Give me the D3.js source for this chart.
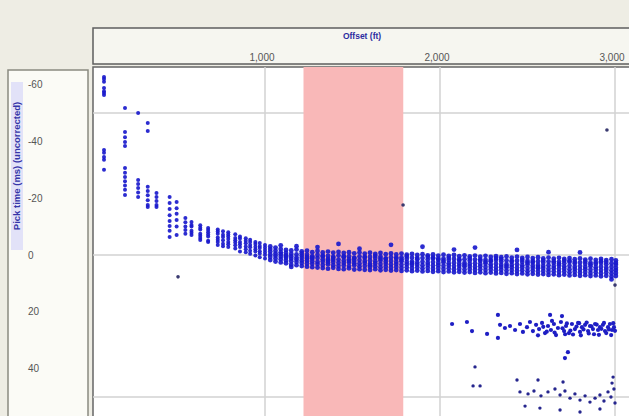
<!DOCTYPE html>
<html>
<head>
<meta charset="utf-8">
<script src="https://cdn.jsdelivr.net/npm/d3@7"></script>
<style>
  body { margin: 0; background: #eeede4; }
  svg { display: block; font-family: "Liberation Sans", Arial, sans-serif; }
</style>
</head>
<body>
<div id="chart"></div>
<script>
// picks per receiver station: offset (ft) and first-break times (ms)
var stationFt = [80, 200, 275, 330, 380, 455, 495, 545, 580, 630, 675, 730, 760, 790, 830, 857, 890, 915, 945, 970, 1000, 1030, 1060,
  1090, 1120, 1150, 1180, 1210, 1240, 1270, 1300, 1330, 1360, 1390, 1420, 1450, 1480, 1510, 1540, 1570, 1600, 1630, 1660, 1690,
  1720, 1750, 1780, 1810, 1840, 1870, 1900, 1930, 1960, 1990, 2020, 2050, 2080, 2110, 2140, 2170, 2200, 2230, 2260, 2290, 2320,
  2350, 2380, 2410, 2440, 2470, 2500, 2530, 2560, 2590, 2620, 2650, 2680, 2710, 2740, 2770, 2800, 2830, 2860, 2890, 2920, 2950,
  2980, 3005];

var stationMs = [
  [-62.7, -62.0, -61.0, -58.8, -57.7, -57.0, -56.3, -37.0, -36.0, -34.5, -33.5, -30.0],
  [-51.8, -43.3, -41.5, -39.8, -38.4, -30.6, -29.0, -27.5, -26.0, -24.5, -23.0, -21.1],
  [-50.0, -26.4, -25.0, -23.6, -22.0, -20.4],
  [-46.5, -43.7, -24.0, -22.5, -21.0, -19.3, -17.6, -16.9],
  [-21.8, -20.4, -19.0, -17.6, -16.9],
  [-20.4, -18.3, -16.2, -14.0, -12.0, -10.2, -8.5, -6.3],
  [-18.7, -16.5, -14.5, -12.3, -10.0, -7.0],
  [-13.0, -11.5, -10.0, -8.8, -7.5],
  [-11.6, -10.6, -10.0, -8.5, -7.8, -7.0],
  [-10.5, -9.6, -9.0, -7.5, -6.8, -6.0, -5.3],
  [-9.5, -8.8, -8.0, -7.2, -6.5, -5.0, -4.6],
  [-9.0, -8.3, -7.5, -6.2, -5.4, -4.6, -3.5],
  [-8.4, -7.1, -6.3, -5.2, -4.0, -3.1],
  [-8.0, -7.2, -6.5, -5.6, -4.6, -3.8, -2.8],
  [-7.3, -6.0, -5.2, -4.4, -3.4, -2.3],
  [-6.5, -5.8, -4.6, -3.8, -2.8, -1.2],
  [-5.9, -5.0, -4.1, -3.0, -2.0, -1.0],
  [-5.4, -4.6, -3.5, -2.7, -1.5, -0.4],
  [-4.6, -3.9, -2.9, -2.0, -1.2, 0.2],
  [-4.2, -3.2, -2.5, -1.3, -0.5, 0.8],
  [-3.5, -2.6, -1.8, -0.9, 0.0, 1.2],
  [-3.0, -2.1, -1.2, -0.2, 0.7, 1.8],
  [-2.6, -1.5, -0.5, 0.3, 1.2, 2.3],
  [-2.1, -1.0, -0.3, 0.6, 1.5, 2.6, -3.4],
  [-1.8, -0.7, 0.1, 1.0, 1.9, 2.9, 0.5],
  [-1.6, -0.4, 0.5, 1.3, 2.2, 3.4, 4.2],
  [-1.9, -0.2, 0.9, 1.6, 2.5, 3.6, -3.1],
  [-1.3, 0.2, 1.0, 1.9, 2.8, 3.9, -0.6],
  [-1.5, -0.1, 1.2, 2.0, 3.0, 4.1, 0.7],
  [-1.0, 0.4, 1.3, 2.2, 3.1, 4.3, 0.9],
  [-1.4, 0.0, 1.1, 2.4, 3.2, 4.4, -2.8],
  [-0.9, 0.5, 1.5, 2.3, 3.5, 4.6, 0.2],
  [-1.2, 0.3, 1.4, 2.6, 3.3, 4.8, 1.9],
  [-0.8, 0.6, 1.7, 2.5, 3.6, 4.5, 1.0],
  [-1.1, 0.2, 1.6, 2.7, 3.8, 4.9, -3.9],
  [-0.7, 0.8, 1.9, 2.8, 3.7, 5.0, 0.4],
  [-1.0, 0.4, 1.5, 2.6, 3.9, 4.7, 2.1],
  [-0.6, 0.9, 2.0, 2.9, 3.6, 5.1, 1.2],
  [-0.9, 0.5, 1.8, 3.0, 4.0, 5.0, -2.2],
  [-0.5, 1.0, 2.1, 2.8, 3.9, 5.2, 0.6],
  [-0.8, 0.7, 1.9, 3.1, 4.2, 5.3, 3.6],
  [-0.4, 1.1, 2.2, 3.0, 4.0, 5.0, 0.3],
  [-0.7, 0.6, 2.0, 3.2, 4.3, 5.4, 1.3],
  [-0.3, 1.2, 2.3, 3.1, 4.1, 5.2, 1.4],
  [-0.6, 0.8, 2.1, 3.3, 4.4, 5.5, -3.6],
  [-0.2, 1.3, 2.4, 3.2, 4.2, 5.3, 0.9],
  [-0.5, 0.9, 2.2, 3.4, 4.5, 5.6, 1.6],
  [-0.1, 1.4, 2.5, 3.3, 4.3, 5.4, 0.5],
  [-0.4, 1.0, 2.3, 3.5, 4.6, 5.7, 2.9],
  [0.0, 1.5, 2.6, 3.4, 4.4, 5.5, 1.1],
  [-0.3, 1.1, 2.4, 3.6, 4.7, 5.8, -2.9],
  [0.1, 1.6, 2.7, 3.5, 4.5, 5.6, 0.7],
  [-0.2, 1.2, 2.5, 3.7, 4.8, 5.9, 0.9],
  [0.2, 1.7, 2.8, 3.6, 4.6, 5.7, 1.3],
  [-0.1, 1.3, 2.6, 3.8, 4.9, 6.0, 2.0],
  [0.3, 1.8, 2.9, 3.7, 4.7, 5.8, 1.0],
  [0.0, 1.4, 2.7, 3.9, 5.0, 6.1, -1.9],
  [0.4, 1.9, 3.0, 3.8, 4.8, 5.9, 1.5],
  [0.1, 1.5, 2.8, 4.0, 5.1, 6.2, 3.4],
  [0.5, 2.0, 3.1, 3.9, 4.9, 6.0, 1.2],
  [0.2, 1.6, 2.9, 4.1, 5.2, 6.3, -2.6],
  [0.6, 2.1, 3.2, 4.0, 5.0, 6.1, 1.6],
  [0.3, 1.7, 3.0, 4.2, 5.3, 6.4, 2.4],
  [0.7, 2.2, 3.3, 4.1, 5.1, 6.2, 1.8],
  [0.4, 1.8, 3.1, 4.3, 5.4, 6.5, 1.1],
  [0.8, 2.3, 3.4, 4.2, 5.2, 6.3, 1.5],
  [0.5, 1.9, 3.2, 4.4, 5.5, 6.6, 3.8],
  [0.9, 2.4, 3.5, 4.3, 5.3, 6.4, 2.0],
  [0.6, 2.0, 3.3, 4.5, 5.6, 6.7, -1.8],
  [1.0, 2.5, 3.6, 4.4, 5.4, 6.5, 1.7],
  [0.7, 2.1, 3.4, 4.6, 5.7, 6.8, 2.7],
  [1.1, 2.6, 3.7, 4.5, 5.5, 6.6, 2.1],
  [0.8, 2.2, 3.5, 4.7, 5.8, 6.9, 4.2],
  [1.2, 2.7, 3.8, 4.6, 5.6, 6.7, 1.9],
  [0.9, 2.3, 3.6, 4.8, 5.9, 7.0, -1.0],
  [1.3, 2.8, 3.9, 4.7, 5.7, 6.8, 2.2],
  [1.0, 2.4, 3.7, 4.9, 6.0, 7.1, 3.1],
  [1.4, 2.9, 4.0, 4.8, 5.8, 6.9, 2.0],
  [1.1, 2.5, 3.8, 5.0, 6.1, 7.2, 2.0],
  [1.5, 3.0, 4.1, 4.9, 5.9, 7.0, 2.4],
  [1.2, 2.6, 3.9, 5.1, 6.2, 7.3, -0.9],
  [1.6, 3.1, 4.2, 5.0, 6.0, 7.1, 2.3],
  [1.3, 2.7, 4.0, 5.2, 6.3, 7.4, 3.3],
  [1.7, 3.2, 4.3, 5.1, 6.1, 7.2, 2.6],
  [1.4, 2.8, 4.1, 5.3, 6.4, 7.5, 2.2],
  [1.8, 3.3, 4.4, 5.2, 6.2, 7.3, 2.5],
  [1.5, 2.9, 4.2, 5.4, 6.5, 7.6, 8.6],
  [1.9, 3.4, 4.5, 5.3, 6.3, 7.4, 2.8]
];

// second (deeper) refracted branch, [offset ft, time ms]
var branch2 = [[2069, 24.3], [2154, 23.6], [2183, 26.8], [2269, 27.8], [2331, 21.1], [2343, 24.6], [2331, 29.2], [2371, 25.7],
  [2400, 25.0], [2429, 26.4], [2457, 24.3], [2474, 27.1], [2497, 25.4], [2514, 23.6], [2531, 26.8], [2549, 24.6], [2566, 26.1],
  [2583, 23.9], [2600, 27.5], [2617, 25.0], [2629, 21.1], [2634, 26.4], [2651, 24.3], [2663, 28.2], [2674, 25.7], [2691, 23.6],
  [2697, 21.5], [2709, 26.8], [2720, 25.0], [2731, 34.2], [2714, 36.3], [2737, 27.5], [2754, 24.3], [2771, 26.1], [2789, 23.9],
  [2800, 27.1], [2811, 25.4], [2829, 24.6], [2846, 26.8], [2857, 25.0], [2874, 26.1], [2886, 24.3], [2903, 26.4], [2914, 25.4],
  [2931, 24.6], [2943, 26.8], [2960, 25.4], [2971, 24.3], [2983, 26.4], [2994, 25.4], [2700, 25.8], [2715, 27.9], [2725, 24.1],
  [2745, 26.6], [2760, 28.0], [2780, 25.2], [2795, 24.0], [2805, 28.3], [2820, 26.2], [2838, 23.8], [2850, 27.6], [2865, 25.1],
  [2880, 27.9], [2895, 24.5], [2908, 28.1], [2922, 26.0], [2937, 23.9], [2950, 27.5], [2965, 26.2], [2978, 28.2], [2990, 24.0],
  [3000, 26.7], [2655, 27.3], [2640, 23.2], [2610, 27.0], [2590, 25.3], [2560, 28.3]];

// third branch, sparse
var branch3 = [[2200, 39.4], [2189, 46.1], [2229, 46.1], [2440, 44.0], [2560, 44.0], [2703, 44.7], [2989, 43.0], [2983, 45.1],
  [2457, 48.2], [2503, 48.9], [2537, 47.9], [2577, 49.6], [2617, 48.2], [2657, 47.2], [2686, 49.3], [2714, 47.9], [2743, 50.4],
  [2771, 48.9], [2800, 51.1], [2829, 49.6], [2857, 51.8], [2886, 50.4], [2914, 49.3], [2937, 51.4], [2960, 48.2], [2977, 50.0],
  [2994, 47.2], [3000, 52.1], [2571, 53.9], [2686, 54.6], [2800, 55.3], [2914, 54.2], [2486, 53.2]];

// lone picks
var strays = [[503, 7.7], [1789, -17.6], [2954, -44.0], [3000, 10.6]];

var highlightFt = [1220, 1790];
var xTicks = [1000, 2000, 3000];
var yTicks = [-60, -40, -20, 0, 20, 40];
var yGrid = [-50, 0, 50];

var W = 629, H = 416;
var plot = {left: 93, top: 67, right: 629, bottom: 416};

var svg = d3.select("#chart").append("svg")
  .attr("width", W)
  .attr("height", H);

var x = d3.scaleLinear().domain([0, 3000]).range([90, 615]);
var y = d3.scaleLinear().domain([0, 50]).range([255, 397]);

// header strip with the offset axis
svg.append("rect")
  .attr("x", plot.left).attr("y", 28)
  .attr("width", W - plot.left + 10).attr("height", 36)
  .attr("fill", "#f6f6f0")
  .attr("stroke", "#5e5e5e").attr("stroke-width", 1.5);

svg.append("text")
  .attr("x", 362).attr("y", 39)
  .attr("text-anchor", "middle")
  .attr("font-size", "8.5px").attr("font-weight", "bold")
  .attr("fill", "#2c2ca0")
  .text("Offset (ft)");

svg.selectAll(".xlab").data(xTicks).enter().append("text")
  .attr("x", d => x(d) - 3).attr("y", 61)
  .attr("text-anchor", "middle")
  .attr("font-size", "10px")
  .attr("fill", "#555")
  .text(d => d3.format(",")(d));

// left panel with the time axis
svg.append("rect")
  .attr("x", 8).attr("y", 70)
  .attr("width", 80).attr("height", 360)
  .attr("fill", "#fbfbf6")
  .attr("stroke", "#8a8a80").attr("stroke-width", 1.5);

svg.selectAll(".ylab").data(yTicks).enter().append("text")
  .attr("x", 28).attr("y", d => y(d))
  .attr("dy", "0.35em")
  .attr("font-size", "10px")
  .attr("fill", "#555")
  .text(d => d);

var yTitle = svg.append("g").attr("transform", "translate(17,166) rotate(-90)");
yTitle.append("rect")
  .attr("x", -84).attr("y", -6)
  .attr("width", 168).attr("height", 12)
  .attr("fill", "#e2e2f8");
yTitle.append("text")
  .attr("text-anchor", "middle")
  .attr("dy", "0.35em")
  .attr("font-size", "9.5px").attr("font-weight", "bold")
  .attr("fill", "#3535a8")
  .text("Pick time (ms) (uncorrected)");

// plot area
svg.append("defs").append("clipPath").attr("id", "clip")
  .append("rect")
  .attr("x", plot.left).attr("y", plot.top)
  .attr("width", plot.right - plot.left).attr("height", plot.bottom - plot.top);

svg.append("rect")
  .attr("x", plot.left).attr("y", plot.top)
  .attr("width", plot.right - plot.left + 10).attr("height", plot.bottom - plot.top + 10)
  .attr("fill", "#fff")
  .attr("stroke", "#666").attr("stroke-width", 1.5);

var g = svg.append("g").attr("clip-path", "url(#clip)");

g.selectAll(".vgrid").data(xTicks).enter().append("line")
  .attr("x1", d => x(d)).attr("x2", d => x(d))
  .attr("y1", plot.top).attr("y2", plot.bottom)
  .attr("stroke", "#d2d2d2").attr("stroke-width", 1.5);

g.selectAll(".hgrid").data(yGrid).enter().append("line")
  .attr("x1", plot.left).attr("x2", plot.right)
  .attr("y1", d => y(d)).attr("y2", d => y(d))
  .attr("stroke", "#d2d2d2").attr("stroke-width", 1.5);

// highlighted offset window
g.append("rect")
  .attr("x", x(highlightFt[0])).attr("y", plot.top)
  .attr("width", x(highlightFt[1]) - x(highlightFt[0]))
  .attr("height", plot.bottom - plot.top)
  .attr("fill", "#f9b8b8");

// flatten the station picks
var picks = [];
stationFt.forEach(function(ft, i) {
  stationMs[i].forEach(function(ms) { picks.push([ft, ms]); });
});

g.selectAll(".pick").data(picks).enter().append("circle")
  .attr("cx", d => x(d[0])).attr("cy", d => y(d[1]))
  .attr("r", d => d[0] > 1000 ? 2.4 : 2.0)
  .attr("fill", "#1a1acc")
  .attr("fill-opacity", 0.92);

g.selectAll(".b2").data(branch2).enter().append("circle")
  .attr("cx", d => x(d[0])).attr("cy", d => y(d[1]))
  .attr("r", 2.1)
  .attr("fill", "#1e1ec4");

g.selectAll(".b3").data(branch3).enter().append("circle")
  .attr("cx", d => x(d[0])).attr("cy", d => y(d[1]))
  .attr("r", 1.7)
  .attr("fill", "#26268e");

g.selectAll(".stray").data(strays).enter().append("circle")
  .attr("cx", d => x(d[0])).attr("cy", d => y(d[1]))
  .attr("r", 1.8)
  .attr("fill", "#3a3a70");
</script>
</body>
</html>
